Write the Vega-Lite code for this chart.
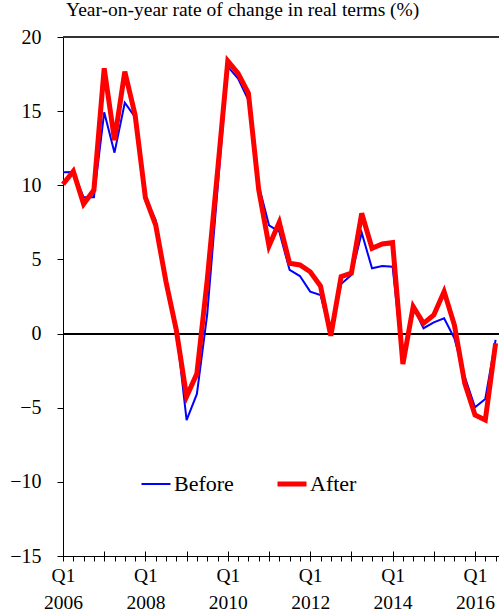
{
  "$schema": "https://vega.github.io/schema/vega-lite/v6.json",
  "width": 436,
  "height": 519,
  "autosize": {"type": "none"},
  "padding": {"left": 63, "top": 37, "right": 0, "bottom": 58},
  "background": "white",
  "config": {
    "view": {"stroke": null},
    "font": "Liberation Serif",
    "axis": {"domainColor": "black", "tickColor": "black", "labelColor": "black", "grid": false, "labelFont": "Liberation Serif", "domainWidth": 1, "tickWidth": 1},
    "legend": {"labelFont": "Liberation Serif"}
  },
  "title": {"text": "Year-on-year rate of change in real terms (%)", "anchor": "start", "frame": "group", "font": "Liberation Serif", "fontSize": 19.5, "fontWeight": "normal", "color": "black", "offset": 7, "dx": 3},
  "data": {"values": [
    {"q": 0, "series": "Before", "v": 10.88}, {"q": 0, "series": "After", "v": 10.07},
    {"q": 1, "series": "Before", "v": 10.9}, {"q": 1, "series": "After", "v": 10.95},
    {"q": 2, "series": "Before", "v": 9.19}, {"q": 2, "series": "After", "v": 8.74},
    {"q": 3, "series": "Before", "v": 9.2}, {"q": 3, "series": "After", "v": 9.68},
    {"q": 4, "series": "Before", "v": 14.92}, {"q": 4, "series": "After", "v": 17.89},
    {"q": 5, "series": "Before", "v": 12.2}, {"q": 5, "series": "After", "v": 13.05},
    {"q": 6, "series": "Before", "v": 15.57}, {"q": 6, "series": "After", "v": 17.66},
    {"q": 7, "series": "Before", "v": 14.6}, {"q": 7, "series": "After", "v": 14.74},
    {"q": 8, "series": "Before", "v": 9.16}, {"q": 8, "series": "After", "v": 9.16},
    {"q": 9, "series": "Before", "v": 7.66}, {"q": 9, "series": "After", "v": 7.32},
    {"q": 10, "series": "Before", "v": 3.5}, {"q": 10, "series": "After", "v": 3.5},
    {"q": 11, "series": "Before", "v": 0.3}, {"q": 11, "series": "After", "v": 0.24},
    {"q": 12, "series": "Before", "v": -5.83}, {"q": 12, "series": "After", "v": -4.25},
    {"q": 13, "series": "Before", "v": -4.07}, {"q": 13, "series": "After", "v": -2.7},
    {"q": 14, "series": "Before", "v": 1.3}, {"q": 14, "series": "After", "v": 3.6},
    {"q": 15, "series": "Before", "v": 9.7}, {"q": 15, "series": "After", "v": 10.9},
    {"q": 16, "series": "Before", "v": 18.0}, {"q": 16, "series": "After", "v": 18.38},
    {"q": 17, "series": "Before", "v": 17.2}, {"q": 17, "series": "After", "v": 17.55},
    {"q": 18, "series": "Before", "v": 15.75}, {"q": 18, "series": "After", "v": 16.2},
    {"q": 19, "series": "Before", "v": 10.0}, {"q": 19, "series": "After", "v": 9.7},
    {"q": 20, "series": "Before", "v": 7.3}, {"q": 20, "series": "After", "v": 5.9},
    {"q": 21, "series": "Before", "v": 6.87}, {"q": 21, "series": "After", "v": 7.5},
    {"q": 22, "series": "Before", "v": 4.29}, {"q": 22, "series": "After", "v": 4.74},
    {"q": 23, "series": "Before", "v": 3.88}, {"q": 23, "series": "After", "v": 4.63},
    {"q": 24, "series": "Before", "v": 2.83}, {"q": 24, "series": "After", "v": 4.17},
    {"q": 25, "series": "Before", "v": 2.6}, {"q": 25, "series": "After", "v": 3.21},
    {"q": 26, "series": "Before", "v": -0.1}, {"q": 26, "series": "After", "v": -0.15},
    {"q": 27, "series": "Before", "v": 3.34}, {"q": 27, "series": "After", "v": 3.84},
    {"q": 28, "series": "Before", "v": 3.95}, {"q": 28, "series": "After", "v": 4.07},
    {"q": 29, "series": "Before", "v": 6.8}, {"q": 29, "series": "After", "v": 8.11},
    {"q": 30, "series": "Before", "v": 4.4}, {"q": 30, "series": "After", "v": 5.75},
    {"q": 31, "series": "Before", "v": 4.56}, {"q": 31, "series": "After", "v": 6.04},
    {"q": 32, "series": "Before", "v": 4.51}, {"q": 32, "series": "After", "v": 6.13},
    {"q": 33, "series": "Before", "v": -2.0}, {"q": 33, "series": "After", "v": -2.05},
    {"q": 34, "series": "Before", "v": 1.8}, {"q": 34, "series": "After", "v": 1.82},
    {"q": 35, "series": "Before", "v": 0.36}, {"q": 35, "series": "After", "v": 0.69},
    {"q": 36, "series": "Before", "v": 0.76}, {"q": 36, "series": "After", "v": 1.25},
    {"q": 37, "series": "Before", "v": 1.03}, {"q": 37, "series": "After", "v": 2.83},
    {"q": 38, "series": "Before", "v": -0.32}, {"q": 38, "series": "After", "v": 0.58},
    {"q": 39, "series": "Before", "v": -2.9}, {"q": 39, "series": "After", "v": -3.35},
    {"q": 40, "series": "Before", "v": -4.97}, {"q": 40, "series": "After", "v": -5.49},
    {"q": 41, "series": "Before", "v": -4.41}, {"q": 41, "series": "After", "v": -5.83},
    {"q": 42, "series": "Before", "v": -0.43}, {"q": 42, "series": "After", "v": -0.65}
  ]},
  "layer": [
    {
      "mark": {"type": "rule", "color": "#333333", "strokeWidth": 1.2},
      "encoding": {"y": {"datum": 20, "type": "quantitative", "scale": {"domain": [-15, 20], "nice": false, "zero": false}, "title": null}}
    },
    {
      "mark": {"type": "rule", "color": "black", "strokeWidth": 1},
      "encoding": {"y": {"datum": 0, "type": "quantitative", "scale": {"domain": [-15, 20], "nice": false, "zero": false}, "title": null}}
    },
    {
      "transform": [{"filter": "datum.series == 'Before'"}],
      "mark": {"type": "line", "strokeWidth": 2},
      "encoding": {
        "x": {"field": "q", "type": "quantitative", "scale": {"domain": [0, 42.33], "nice": false, "zero": false},
          "axis": {"values": [0,1,2,3,4,5,6,7,8,9,10,11,12,13,14,15,16,17,18,19,20,21,22,23,24,25,26,27,28,29,30,31,32,33,34,35,36,37,38,39,40,41,42],
            "tickSize": 5, "labelExpr": "datum.value % 8 == 0 ? ['Q1', '' + (2006 + datum.value / 4)] : ''",
            "labelOverlap": false, "labelFlush": false, "labelBound": false, "labelFont": "Liberation Serif", "labelFontSize": 19.5, "labelLineHeight": 27, "labelPadding": 5, "title": null, "orient": "bottom"}},
        "y": {"field": "v", "type": "quantitative", "scale": {"domain": [-15, 20], "nice": false, "zero": false},
          "axis": {"values": [-15, -10, -5, 0, 5, 10, 15, 20], "tickSize": 6, "labelFont": "Liberation Serif", "labelFontSize": 20, "labelPadding": 16, "title": null}},
        "color": {"field": "series", "type": "nominal", "scale": {"domain": ["Before", "After"], "range": ["#0000ff", "#ff0000"]},
          "legend": {"orient": "none", "legendX": 82, "legendY": 436, "direction": "horizontal", "title": null, "symbolType": "stroke", "symbolSize": 841,
            "labelFont": "Liberation Serif", "labelFontSize": 22, "labelColor": "black", "labelOffset": 7, "columnPadding": 33,
            "encode": {"symbols": {"update": {"strokeWidth": {"signal": "datum.value === 'After' ? 5 : 2"}}}}}}
      }
    },
    {
      "transform": [{"filter": "datum.series == 'After'"}],
      "mark": {"type": "line", "strokeWidth": 5},
      "encoding": {
        "x": {"field": "q", "type": "quantitative", "scale": {"domain": [0, 42.33], "nice": false, "zero": false}, "axis": null},
        "y": {"field": "v", "type": "quantitative", "scale": {"domain": [-15, 20], "nice": false, "zero": false}, "title": null},
        "color": {"field": "series", "type": "nominal", "scale": {"domain": ["Before", "After"], "range": ["#0000ff", "#ff0000"]}}
      }
    },
    {
      "mark": {"type": "point", "opacity": 0},
      "encoding": {
        "x": {"field": "q", "type": "quantitative", "scale": {"domain": [0, 42.33], "nice": false, "zero": false},
          "axis": {"values": [0, 4, 8, 12, 16, 20, 24, 28, 32, 36, 40], "tickSize": -5, "labels": false, "domain": false, "title": null, "orient": "bottom"}},
        "y": {"field": "v", "type": "quantitative", "scale": {"domain": [-15, 20], "nice": false, "zero": false}, "title": null}
      }
    }
  ],
  "resolve": {"axis": {"x": "independent"}}
}
